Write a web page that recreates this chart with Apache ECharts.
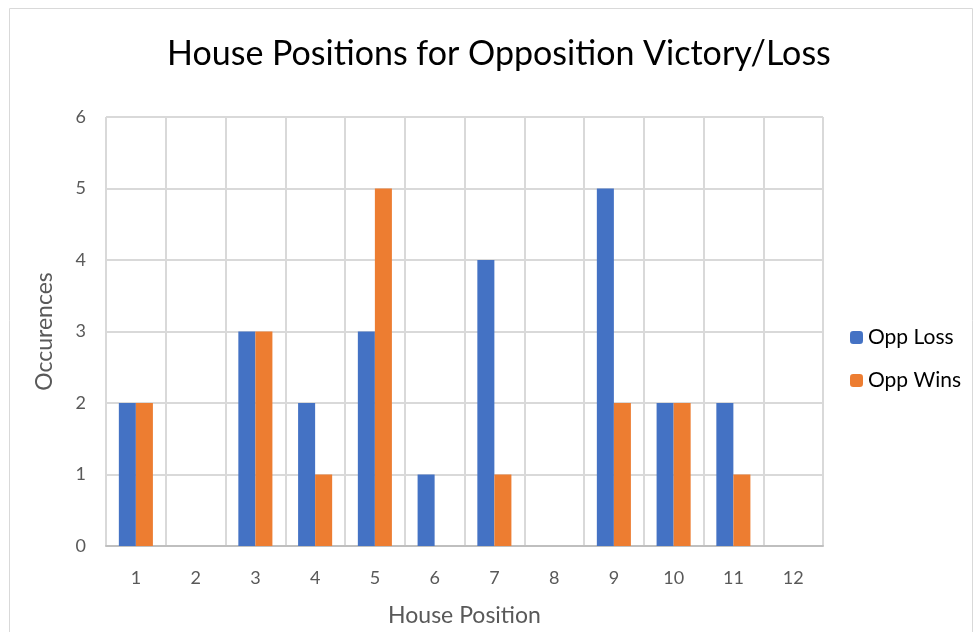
<!DOCTYPE html>
<html>
<head>
<meta charset="utf-8">
<script src="https://cdn.jsdelivr.net/npm/echarts@6/dist/echarts.min.js"></script>
<style>
  html, body { margin: 0; padding: 0; background: #fff; }
  #chart { width: 975px; height: 632px; }
</style>
</head>
<body>
<div id="chart"></div>
<script>
// 数据
var categories = ['1','2','3','4','5','6','7','8','9','10','11','12'];
var oppLoss = [2, 0, 3, 2, 3, 1, 4, 0, 5, 2, 2, 0];
var oppWins = [2, 0, 3, 1, 5, 0, 1, 0, 2, 2, 1, 0];

var font = 'Lato, "Open Sans", sans-serif';
var chart = echarts.init(document.getElementById('chart'));

var option = {
    animation: false,
    textStyle: { fontFamily: font },
    graphic: [{
        type: 'rect',
        shape: { x: 9.5, y: 8.5, width: 963, height: 640 },
        style: { fill: 'none', stroke: '#d9d9d9', lineWidth: 1 }
    }],
    title: {
        text: 'House Positions for Opposition Victory/Loss',
        left: 162,
        top: 32,
        textStyle: { fontFamily: font, fontSize: 34, fontWeight: 'normal', color: '#000' }
    },
    legend: {
        orient: 'vertical',
        left: 845,
        top: 322,
        itemWidth: 13,
        itemHeight: 13,
        itemGap: 22,
        textStyle: { fontFamily: font, fontSize: 21, color: '#000' },
        data: ['Opp Loss', 'Opp Wins']
    },
    grid: { left: 106, top: 117, right: 152, bottom: 84 },
    xAxis: {
        type: 'category',
        data: categories,
        name: 'House Position',
        nameLocation: 'middle',
        nameGap: 58,
        nameTextStyle: { fontSize: 23, color: '#595959' },
        axisLine: { lineStyle: { color: '#bfbfbf', width: 2 } },
        axisTick: { show: false },
        axisLabel: { fontSize: 18, color: '#595959', margin: 23 },
        splitLine: { show: true, lineStyle: { color: '#d9d9d9', width: 2 } }
    },
    yAxis: {
        type: 'value',
        min: 0,
        max: 6,
        interval: 1,
        name: 'Occurences',
        nameLocation: 'middle',
        nameGap: 50,
        nameTextStyle: { fontSize: 23, color: '#595959' },
        axisLine: { show: false },
        axisTick: { show: false },
        axisLabel: { fontSize: 18, color: '#595959', margin: 20 },
        splitLine: { lineStyle: { color: '#d9d9d9', width: 2 } }
    },
    series: [{
        name: 'Opp Loss',
        type: 'bar',
        data: oppLoss,
        barGap: '0%',
        barCategoryGap: '43%',
        itemStyle: { color: '#4472C4' }
    }, {
        name: 'Opp Wins',
        type: 'bar',
        data: oppWins,
        itemStyle: { color: '#ED7D31' }
    }]
};

chart.setOption(option);
</script>
</body>
</html>
